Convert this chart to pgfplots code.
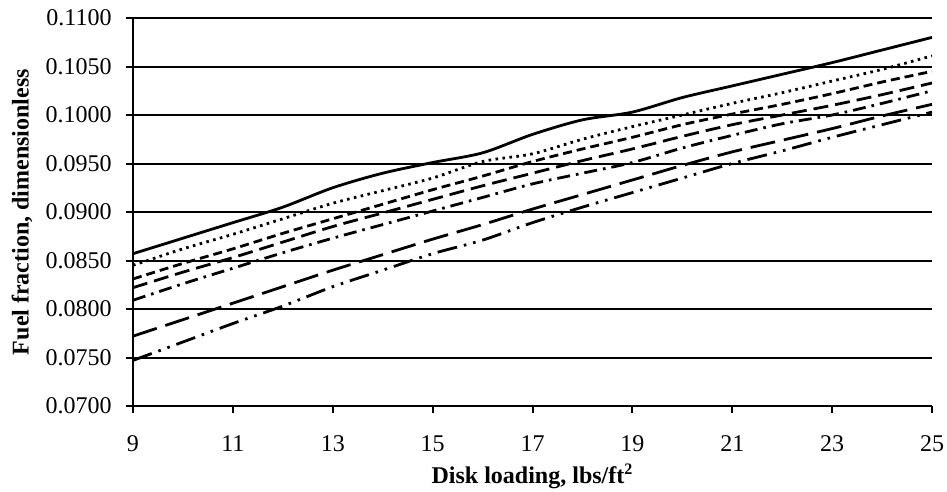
\documentclass[border=0pt]{standalone}
\usepackage{fontspec}
\setmainfont{Liberation Serif}
\usepackage{pgfplots}
\pgfplotsset{compat=1.18}
\begin{document}
\fontsize{12}{14}\selectfont
\begin{tikzpicture}
\path[use as bounding box] (-66.5pt,-43pt) rectangle (407pt,203pt);
\begin{axis}[
  at={(0,0)}, anchor=south west,
  scale only axis, width=399.5pt, height=194pt,
  xmin=9, xmax=25, ymin=0.07, ymax=0.11,
  xtick={9,11,13,15,17,19,21,23,25},
  ytick={0.07,0.075,0.08,0.085,0.09,0.095,0.1,0.105,0.11},
  axis x line*=bottom, axis y line*=left,
  axis line style={line width=1pt, black, -},
  ymajorgrids, grid style={line width=1pt, black},
  tick style={line width=1pt, black},
  major tick length=3.5pt,
  tick align=outside,
  /pgf/number format/assume math mode=true,
  yticklabel style={/pgf/number format/.cd, fixed, fixed zerofill, precision=4, /tikz/.cd, xshift=-3pt},
  xticklabel style={/pgf/number format/.cd, fixed, precision=0, /tikz/.cd, yshift=-7pt},
  every tick label/.append style={font=\fontsize{12}{14}\selectfont},
  xlabel={\textbf{Disk loading, lbs/ft\textsuperscript{2}}},
  ylabel={\textbf{Fuel fraction, dimensionless}},
  xlabel style={at={(axis description cs:0.5,-0.181)}, anchor=center, font=\fontsize{12}{14}\selectfont},
  ylabel style={at={(axis description cs:-0.1389,0.5)}, anchor=center, font=\fontsize{12}{14}\selectfont},
  every axis plot/.append style={line width=1.4pt, black, smooth, no markers},
]
% solid
\addplot[solid] coordinates {(9,0.0857)(10,0.0873)(11,0.0889)(12,0.0905)(13,0.0925)(14,0.0940)(15,0.0951)(16,0.0961)(17,0.0980)(18,0.0995)(19,0.1003)(20,0.1018)(21,0.1030)(22,0.1042)(23,0.1054)(24,0.1067)(25,0.1080)};
% dotted
\addplot[dash pattern=on 1.3pt off 2.2pt] coordinates {(9,0.0845)(10,0.0862)(11,0.0877)(12,0.0893)(13,0.0909)(14,0.0922)(15,0.0935)(16,0.0952)(17,0.0960)(18,0.0975)(19,0.0988)(20,0.1000)(21,0.1012)(22,0.1023)(23,0.1035)(24,0.1047)(25,0.1061)};
% short dash
\addplot[dash pattern=on 4.5pt off 2.5pt] coordinates {(9,0.0831)(10,0.0847)(11,0.0862)(12,0.0878)(13,0.0893)(14,0.0908)(15,0.0923)(16,0.0937)(17,0.0952)(18,0.0965)(19,0.0977)(20,0.0990)(21,0.1001)(22,0.1011)(23,0.1022)(24,0.1034)(25,0.1045)};
% medium dash
\addplot[dash pattern=on 7.5pt off 3.5pt] coordinates {(9,0.0822)(10,0.0838)(11,0.0853)(12,0.0869)(13,0.0885)(14,0.0899)(15,0.0913)(16,0.0927)(17,0.0940)(18,0.0953)(19,0.0965)(20,0.0978)(21,0.0990)(22,0.1000)(23,0.1010)(24,0.1021)(25,0.1033)};
% dash dot
\addplot[dash pattern=on 6.5pt off 3pt on 1.3pt off 3pt] coordinates {(9,0.0809)(10,0.0826)(11,0.0842)(12,0.0858)(13,0.0873)(14,0.0887)(15,0.0901)(16,0.0915)(17,0.0929)(18,0.0940)(19,0.0951)(20,0.0966)(21,0.0979)(22,0.0991)(23,0.1000)(24,0.1012)(25,0.1025)};
% long dash
\addplot[dash pattern=on 12.5pt off 4.5pt] coordinates {(9,0.0772)(10,0.0789)(11,0.0806)(12,0.0823)(13,0.0840)(14,0.0856)(15,0.0872)(16,0.0887)(17,0.0903)(18,0.0918)(19,0.0933)(20,0.0948)(21,0.0962)(22,0.0974)(23,0.0986)(24,0.0999)(25,0.1011)};
% long dash dot dot
\addplot[dash pattern=on 10pt off 3.5pt on 1.3pt off 3.5pt on 1.3pt off 3.5pt] coordinates {(9,0.0747)(10,0.0766)(11,0.0785)(12,0.0803)(13,0.0823)(14,0.0840)(15,0.0857)(16,0.0871)(17,0.0889)(18,0.0905)(19,0.0920)(20,0.0935)(21,0.0950)(22,0.0963)(23,0.0977)(24,0.0990)(25,0.1003)};
\end{axis}
\end{tikzpicture}
\end{document}
